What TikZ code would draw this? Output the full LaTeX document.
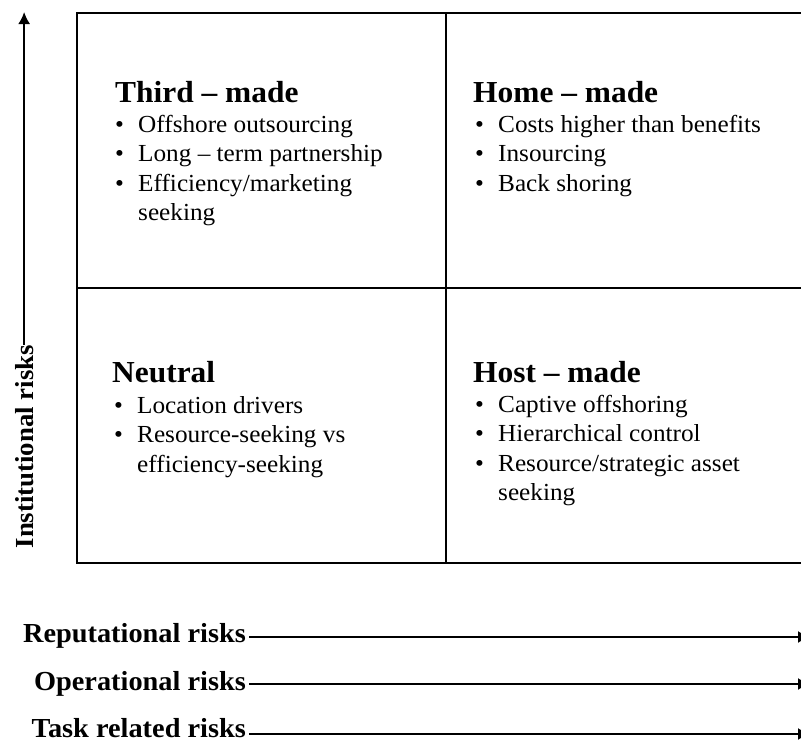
\documentclass[tikz,border=0pt]{standalone}
\usepackage{fontspec}
\setmainfont{Liberation Serif}[FakeStretch=1.03]
\usetikzlibrary{arrows.meta}
\newcommand\bul{\makebox[23pt][l]{\textbullet}}
\newcommand\cnt{\makebox[23pt][l]{}}
\begin{document}
\begin{tikzpicture}[x=1pt,y=-1pt,
  cell/.style={draw, line width=2pt, inner sep=0, anchor=north west},
  ttl/.style={font=\fontsize{30.5}{34}\selectfont\bfseries, anchor=base west, inner sep=0},
  items/.style={font=\fontsize{24.5}{29.5}\selectfont, anchor=base west, inner sep=0},
  risk/.style={font=\fontsize{27.5}{30}\selectfont\bfseries, anchor=base east, inner sep=0},
  arr/.style={line width=1.8pt, -{Latex[length=12pt,width=12pt]}}]
\useasboundingbox (0,0) rectangle (801,742);
\clip (0,0) rectangle (801,742);
% grid cells
\node[cell, minimum width=369pt, minimum height=275pt] (tl) at (76,12) {};
\node[cell, minimum width=400pt, minimum height=275pt] (tr) at (445,12) {};
\node[cell, minimum width=369pt, minimum height=275pt] (bl) at (76,287) {};
\node[cell, minimum width=400pt, minimum height=275pt] (br) at (445,287) {};
% Third - made
\node[ttl] (t1) at (115,102) {Third – made};
\node[items] (i1) at (115,132) {\begin{tabular}[t]{@{}l@{}}\bul Offshore outsourcing\\ \bul Long – term partnership\\ \bul Efficiency/marketing\\ \cnt seeking\end{tabular}};
% Home - made
\node[ttl] (t2) at (473,102) {Home – made};
\node[items] (i2) at (475,132) {\begin{tabular}[t]{@{}l@{}}\bul Costs higher than benefits\\ \bul Insourcing\\ \bul Back shoring\end{tabular}};
% Neutral
\node[ttl] (t3) at (112,382) {Neutral};
\node[items] (i3) at (114,413) {\begin{tabular}[t]{@{}l@{}}\bul Location drivers\\ \bul Resource-seeking vs\\ \cnt efficiency-seeking\end{tabular}};
% Host - made
\node[ttl] (t4) at (473,382) {Host – made};
\node[items] (i4) at (475,412) {\begin{tabular}[t]{@{}l@{}}\bul Captive offshoring\\ \bul Hierarchical control\\ \bul Resource/strategic asset\\ \cnt seeking\end{tabular}};
% vertical axis
\node[font=\fontsize{26}{30}\selectfont\bfseries, rotate=90, anchor=base east, inner sep=0] (inst) at (33,345) {Institutional risks};
\coordinate (itop) at (25,12);
\draw[arr] (inst.east) -- (inst.east |- itop);
% horizontal risks
\node[risk] (rep) at (246,642) {Reputational risks};
\node[risk] (ope) at (246,690) {Operational risks};
\node[risk] (task) at (246,737) {Task related risks};
\coordinate (r1) at (810,637);
\coordinate (r2) at (810,684);
\coordinate (r3) at (810,734);
\draw[arr, shorten <=3pt] (rep.east |- r1) -- (r1);
\draw[arr, shorten <=3pt] (ope.east |- r2) -- (r2);
\draw[arr, shorten <=3pt] (task.east |- r3) -- (r3);
\end{tikzpicture}
\end{document}
